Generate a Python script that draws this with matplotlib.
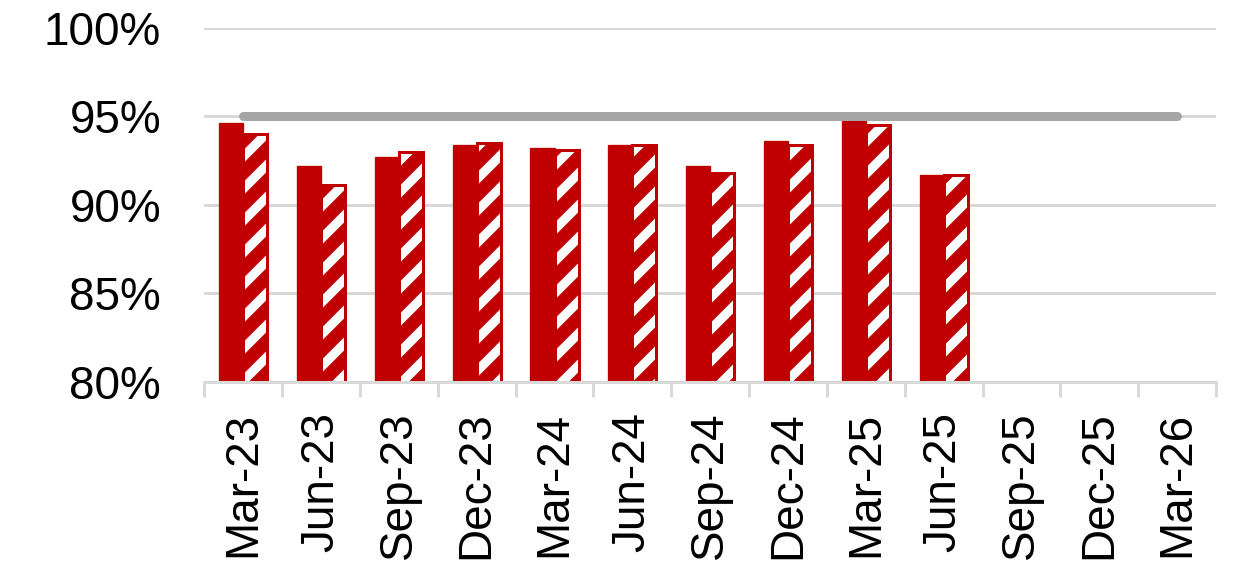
import matplotlib
matplotlib.use("Agg")
import matplotlib.pyplot as plt
import numpy as np
from matplotlib.ticker import FixedLocator

categories = ["Mar-23", "Jun-23", "Sep-23", "Dec-23", "Mar-24", "Jun-24", "Sep-24",
              "Dec-24", "Mar-25", "Jun-25", "Sep-25", "Dec-25", "Mar-26"]
solid_values = [94.6, 92.2, 92.7, 93.4, 93.2, 93.4, 92.2, 93.6, 94.8, 91.7]
hatched_values = [94.0, 91.1, 93.0, 93.5, 93.1, 93.4, 91.8, 93.4, 94.5, 91.7]
target_values = [95.0] * 13
y_ticks = [80, 85, 90, 95, 100]
y_tick_labels = ["80%", "85%", "90%", "95%", "100%"]

RED = "#C00000"
GRID = "#D9D9D9"
TARGET = "#A6A6A6"

DPI = 96
K = 120 / DPI  # point-size scale so pixel sizes stay the same

plt.rcParams['font.family'] = ['Liberation Sans', 'DejaVu Sans']
plt.rcParams['hatch.linewidth'] = 10.0

fig = plt.figure(figsize=(1243 / DPI, 566 / DPI), dpi=DPI)
ax = fig.add_axes([0.1644, 0.3256, 0.9783 - 0.1644, 0.951 - 0.3256])

x_all = np.arange(len(categories))
x_s = np.arange(len(solid_values))
x_h = np.arange(len(hatched_values))
w = 0.31

ax.bar(x_s - w / 2, solid_values, width=w, color=RED, edgecolor=RED, linewidth=0.8 * K, zorder=3)
ax.bar(x_h + w / 2, hatched_values, width=w, facecolor="white", edgecolor=RED,
       hatch="/", linewidth=1.8 * K, zorder=3)
ax.plot(x_all, target_values, color=TARGET, linewidth=5.4 * K, solid_capstyle="round", zorder=4)

ax.set_xlim(-0.5, len(categories) - 0.5)
ax.set_ylim(80, 100)

ax.set_yticks(y_ticks)
ax.set_yticklabels(y_tick_labels)
ax.yaxis.grid(True, color=GRID, linewidth=1.8 * K, zorder=0)
ax.set_axisbelow(True)

ax.set_xticks(x_all)
ax.set_xticklabels(categories, rotation=90, ha="center", va="top")
ax.xaxis.set_minor_locator(FixedLocator(np.arange(-0.5, len(categories), 1.0)))

ax.tick_params(axis="x", which="major", length=0, pad=18 * K, labelsize=27.5 * K, colors="black")
ax.tick_params(axis="x", which="minor", length=9 * K, width=1.8 * K, color=GRID, direction="out")
ax.tick_params(axis="y", which="both", length=0, pad=26 * K, labelsize=27.5 * K, colors="black")

for s in ["top", "right", "left"]:
    ax.spines[s].set_visible(False)
ax.spines["bottom"].set_color(GRID)
ax.spines["bottom"].set_linewidth(1.8 * K)
ax.spines["bottom"].set_zorder(5)

fig.savefig("out.png", dpi=DPI)
